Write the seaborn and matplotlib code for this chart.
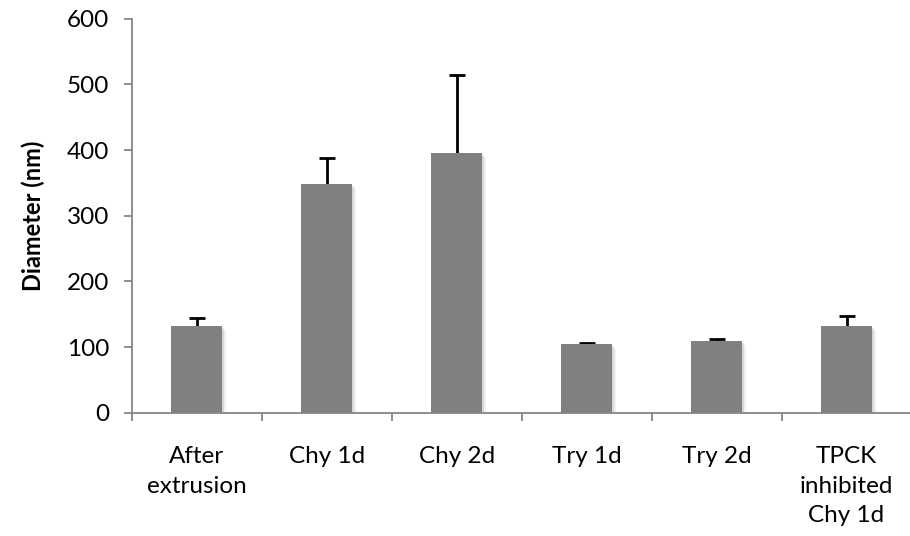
import matplotlib
matplotlib.use("Agg")
import matplotlib.pyplot as plt
import matplotlib.patheffects as pe
from matplotlib.ticker import FixedLocator
import numpy as np
import pandas as pd
import seaborn as sns

# Mean vesicle diameter per treatment, with error (nm)
categories = ["After\nextrusion", "Chy 1d", "Chy 2d", "Try 1d", "Try 2d", "TPCK\ninhibited\nChy 1d"]
diameters = [132, 349, 396, 105, 109, 132]
errors = [13, 39, 118, 1.5, 4, 16]
y_ticks = [0, 100, 200, 300, 400, 500, 600]

sns.set_theme(style="white")
plt.rcParams["font.family"] = ["Lato", "DejaVu Sans"]

df = pd.DataFrame({"category": categories, "diameter": diameters})

fig = plt.figure(figsize=(9.10, 5.36), dpi=100)
ax = fig.add_axes([0.1447, 0.230, 0.857, 0.735])

sns.barplot(data=df, x="category", y="diameter", color="#808080", saturation=1,
            width=0.39, errorbar=None, ax=ax, zorder=3)

for bar in ax.patches:
    bar.set_edgecolor("none")
    bar.set_path_effects([
        pe.SimplePatchShadow(offset=(3, -3), shadow_rgbFace="#000000", alpha=0.06),
        pe.SimplePatchShadow(offset=(1.5, -1.5), shadow_rgbFace="#000000", alpha=0.10),
        pe.Normal(),
    ])

# symmetric error bars drawn behind the bars, so only the upper half shows
xs = np.arange(len(categories))
ax.errorbar(xs, diameters, yerr=errors, fmt="none",
            ecolor="black", elinewidth=2, capsize=6, capthick=2, zorder=2)

ax.set_ylim(0, 600)
ax.set_xlim(-0.5, len(categories) - 0.5)
ax.set_yticks(y_ticks)
ax.set_yticklabels([str(t) for t in y_ticks])

grey = "#868686"
for side in ("top", "right"):
    ax.spines[side].set_visible(False)
for side in ("left", "bottom"):
    ax.spines[side].set_color(grey)
    ax.spines[side].set_linewidth(1.3)
    ax.spines[side].set_zorder(4)

ax.xaxis.set_minor_locator(FixedLocator(np.arange(-0.5, len(categories), 1.0)))
ax.tick_params(axis="x", which="major", length=0, pad=24, labelsize=17.5, labelcolor="black")
ax.tick_params(axis="x", which="minor", length=6, width=1.3, color=grey, direction="out", bottom=True)
ax.tick_params(axis="y", which="major", length=6, width=1.3, color=grey, direction="out",
               left=True, labelsize=17.5, labelcolor="black", pad=10)
for lbl in ax.get_xticklabels():
    lbl.set_verticalalignment("top")
    lbl.set_horizontalalignment("center")
    lbl.set_multialignment("center")
    lbl.set_linespacing(1.5)

ax.set_xlabel("")
ax.set_ylabel("Diameter (nm)", fontsize=17, fontweight="bold", color="black", labelpad=16)
ax.set_facecolor("white")
fig.patch.set_facecolor("white")

fig.savefig("out.png", dpi=100)
